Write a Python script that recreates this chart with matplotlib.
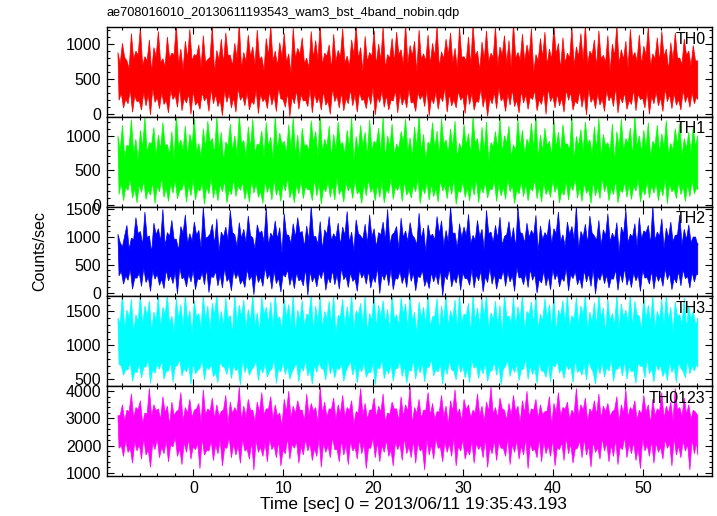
import numpy as np
import matplotlib
matplotlib.use("Agg")
import matplotlib.pyplot as plt
from matplotlib.ticker import MultipleLocator

plt.rcParams['font.family'] = ['Liberation Sans', 'DejaVu Sans']

title = "ae708016010_20130611193543_wam3_bst_4band_nobin.qdp"
xlabel = "Time [sec] 0 = 2013/06/11 19:35:43.193"
ylabel = "Counts/sec"

# time span covered by the light curve (sec)
t_start, t_end = -8.4, 56.1

names = ["TH0", "TH1", "TH2", "TH3", "TH0123"]
colors = ["#ff0000", "#00ff00", "#0000ff", "#00ffff", "#ff00ff"]

# ~0.5 s steps:
#   *_hi  peaks of the upper edge,  *_hid dips between those peaks
#   *_lo  troughs of the lower edge, *_lod bumps between those troughs
th0_hi = [880, 1010, 760, 1150, 900, 1240, 820, 1060, 950, 1180,
          790, 1100, 870, 1270, 930, 1040, 1210, 850, 990, 1120,
          780, 1250, 910, 1070, 1160, 840, 1010, 1290, 880, 1130,
          960, 1200, 820, 1080, 1260, 900, 1020, 1150, 860, 1230,
          940, 1090, 800, 1180, 1050, 1280, 870, 990, 1140, 910,
          1220, 830, 1060, 1270, 950, 1110, 880, 1190, 1000, 1250,
          850, 1080, 1170, 920, 1290, 980, 1040, 1200, 860, 1130,
          1010, 1260, 890, 1070, 1160, 940, 1240, 820, 1100, 1280,
          900, 1030, 1190, 870, 1250, 960, 1120, 1050, 1300, 880,
          1140, 990, 1220, 850, 1080, 1170, 930, 1260, 1010, 1090,
          870, 1230, 960, 1150, 1280, 900, 1060, 1190, 840, 1120,
          1000, 1270, 920, 1040, 1210, 880, 1130, 970, 1250, 860,
          1090, 1180, 930, 1020, 1160, 800, 1070, 900, 980, 760]
th0_hid = [720, 810, 650, 780, 840, 690, 760, 600, 820, 740,
           680, 800, 850, 710, 630, 790, 760, 830, 670, 740,
           810, 590, 770, 720, 840, 690, 800, 650, 750, 820,
           700, 780, 620, 830, 760, 690, 810, 740, 580, 790,
           850, 720, 660, 800, 770, 700, 830, 640, 760, 810,
           730, 680, 840, 790, 610, 750, 820, 700, 770, 660,
           800, 740, 850, 690, 720, 830, 600, 780, 760, 710,
           820, 670, 790, 840, 730, 650, 810, 760, 700, 830,
           620, 780, 750, 810, 690, 840, 720, 660, 800, 770,
           740, 830, 590, 760, 810, 700, 780, 850, 640, 730,
           800, 690, 820, 760, 710, 840, 670, 790, 740, 610,
           830, 720, 780, 650, 810, 760, 700, 840, 680, 790,
           750, 820, 630, 770, 800, 710, 840, 690, 760, 720]
th0_lo = [200, 90, 150, 30, 180, 60, 120, -10, 170, 80,
          140, 20, 210, 100, 50, 160, 0, 130, 70, 190,
          40, 150, 110, -20, 170, 90, 30, 200, 120, 60,
          140, 10, 180, 80, 130, 40, 220, 100, -30, 150,
          70, 190, 110, 20, 160, 60, 130, 0, 180, 90,
          50, 150, 120, 30, 200, 80, 140, -10, 170, 100,
          60, 190, 20, 130, 90, 160, 40, 210, 110, -20,
          150, 70, 180, 30, 120, 90, 200, 10, 140, 60,
          170, 100, -30, 150, 80, 190, 40, 130, 110, 20,
          160, 70, 210, 50, 140, 0, 180, 90, 120, 30,
          200, 60, 150, 100, -10, 170, 80, 130, 40, 190,
          110, 20, 160, 70, 140, 50, 210, 90, 0, 150,
          120, 40, 180, 80, 130, 60, 170, 100, 150, 210]
th0_lod = [300, 220, 350, 260, 190, 320, 280, 370, 240, 310,
           200, 340, 270, 380, 230, 290, 330, 180, 310, 250,
           360, 280, 210, 340, 300, 240, 370, 260, 320, 190,
           350, 290, 230, 330, 270, 380, 210, 310, 250, 340,
           280, 200, 360, 300, 240, 330, 190, 370, 260, 310,
           230, 350, 280, 320, 210, 290, 380, 250, 330, 270,
           200, 340, 300, 240, 360, 180, 310, 280, 350, 230,
           320, 260, 370, 290, 210, 330, 250, 340, 300, 190,
           360, 270, 230, 310, 380, 240, 300, 350, 200, 330,
           280, 250, 340, 210, 320, 370, 260, 290, 230, 350,
           310, 190, 330, 280, 360, 240, 300, 220, 340, 270,
           380, 250, 310, 200, 350, 290, 230, 330, 260, 320,
           240, 360, 280, 300, 210, 340, 270, 310, 250, 290]

th1_hi = [1000, 1150, 860, 1230, 950, 1080, 1270, 900, 1120, 1010,
          1190, 870, 1060, 1300, 940, 1140, 1020, 1250, 890, 1100,
          1210, 960, 1280, 1050, 910, 1170, 1000, 1300, 930, 1130,
          1240, 880, 1070, 1190, 980, 1290, 1040, 920, 1160, 1260,
          1010, 1110, 870, 1220, 1060, 1300, 950, 1140, 1020, 1200,
          900, 1080, 1270, 990, 1150, 1050, 1230, 920, 1110, 1280,
          1000, 1170, 880, 1060, 1240, 970, 1130, 1300, 1020, 910,
          1190, 1070, 1250, 940, 1100, 1210, 890, 1160, 1030, 1280,
          960, 1120, 1200, 900, 1060, 1260, 1000, 1140, 870, 1230,
          1080, 950, 1180, 1290, 1010, 1110, 920, 1220, 1050, 1160,
          880, 1270, 990, 1090, 1200, 940, 1130, 1250, 1020, 900,
          1170, 1060, 1240, 960, 1110, 1300, 1000, 1080, 1190, 920,
          1150, 1030, 1220, 890, 1100, 1180, 960, 1050, 1120, 1000]
th1_hid = [780, 690, 850, 740, 620, 820, 760, 880, 700, 800,
           860, 730, 650, 840, 790, 710, 870, 760, 680, 820,
           900, 740, 800, 630, 850, 770, 720, 880, 690, 810,
           750, 860, 700, 830, 660, 790, 870, 740, 810, 720,
           640, 850, 780, 890, 710, 760, 830, 680, 800, 870,
           730, 820, 610, 780, 850, 700, 790, 880, 750, 670,
           840, 720, 810, 900, 760, 690, 830, 770, 640, 860,
           800, 710, 870, 740, 820, 680, 790, 850, 730, 880,
           700, 760, 620, 840, 810, 750, 890, 690, 780, 830,
           720, 860, 800, 660, 770, 850, 710, 820, 740, 880,
           790, 650, 840, 760, 870, 730, 800, 690, 850, 770,
           620, 820, 780, 890, 700, 840, 760, 810, 680, 860,
           750, 830, 720, 790, 870, 700, 810, 760, 840, 780]
th1_lo = [150, 60, 210, 100, 30, 180, 80, 140, 20, 190,
          110, 50, 170, 90, 220, 40, 130, 70, 200, 10,
          160, 100, 60, 190, 30, 150, 120, 210, 80, 40,
          170, 110, 20, 180, 70, 140, 50, 200, 100, 30,
          160, 90, 220, 60, 130, 10, 190, 110, 70, 150,
          40, 200, 90, 160, 20, 130, 180, 60, 110, 30,
          170, 80, 210, 50, 140, 100, 190, 20, 160, 70,
          120, 40, 200, 90, 150, 10, 180, 110, 60, 140,
          30, 170, 100, 220, 50, 130, 80, 190, 20, 160,
          120, 60, 200, 90, 40, 150, 110, 180, 30, 140,
          70, 210, 100, 50, 170, 20, 130, 90, 190, 60,
          150, 30, 180, 110, 80, 200, 40, 140, 100, 170,
          60, 130, 20, 190, 90, 150, 50, 120, 160, 220]
th1_lod = [320, 260, 380, 240, 300, 350, 220, 330, 280, 390,
           250, 310, 360, 210, 340, 290, 370, 230, 320, 270,
           400, 260, 300, 350, 220, 380, 280, 330, 240, 360,
           310, 200, 340, 290, 370, 250, 320, 390, 230, 300,
           350, 270, 220, 380, 310, 260, 340, 290, 400, 240,
           330, 280, 360, 210, 320, 370, 250, 300, 340, 230,
           390, 270, 310, 350, 220, 290, 380, 260, 330, 300,
           240, 360, 280, 320, 370, 210, 340, 250, 310, 390,
           270, 330, 230, 350, 300, 260, 380, 290, 220, 340,
           310, 250, 370, 280, 330, 240, 360, 300, 210, 350,
           290, 380, 260, 320, 230, 340, 270, 390, 310, 250,
           360, 220, 330, 300, 280, 370, 240, 350, 290, 320,
           260, 380, 310, 230, 340, 270, 300, 360, 250, 330]

th2_hi = [1050, 820, 1210, 980, 1350, 1100, 1450, 1020, 1250, 1150,
          1500, 1080, 1300, 960, 1190, 1400, 1060, 1270, 1120, 1550,
          1000, 1230, 1330, 1090, 1180, 1480, 1040, 1260, 1140, 1380,
          990, 1220, 1110, 1520, 1070, 1290, 1170, 1420, 1030, 1240,
          1350, 1100, 1200, 1560, 1010, 1280, 1130, 1370, 1060, 1250,
          1180, 1460, 1090, 1310, 1020, 1230, 1400, 1150, 1080, 1270,
          1500, 1040, 1190, 1340, 1110, 1260, 980, 1430, 1160, 1220,
          1050, 1370, 1290, 1120, 1550, 1070, 1240, 1180, 1410, 1030,
          1300, 1140, 1480, 1090, 1210, 1360, 1010, 1280, 1170, 1530,
          1060, 1250, 1120, 1390, 1200, 1080, 1320, 1150, 1450, 1040,
          1270, 1190, 1560, 1100, 1230, 1380, 1020, 1300, 1130, 1420,
          1070, 1260, 1180, 1490, 1050, 1240, 1350, 1110, 1210, 1560,
          1090, 1330, 1160, 1270, 1030, 1400, 1140, 1220, 1000, 850]
th2_hid = [900, 1020, 780, 950, 1060, 860, 990, 720, 1040, 920,
           840, 1010, 960, 760, 1070, 880, 930, 1030, 810, 980,
           1050, 870, 740, 1000, 940, 1080, 830, 970, 900, 1020,
           790, 1060, 920, 850, 1000, 960, 710, 1040, 880, 990,
           1070, 820, 940, 1010, 870, 770, 1050, 930, 980, 850,
           1030, 900, 750, 1060, 960, 880, 1000, 820, 1040, 940,
           870, 1080, 790, 990, 920, 1030, 860, 960, 730, 1010,
           950, 1050, 840, 910, 1070, 800, 980, 1020, 880, 940,
           1000, 760, 1060, 900, 970, 850, 1040, 930, 810, 1080,
           890, 990, 1030, 740, 950, 1010, 870, 1060, 920, 830,
           1040, 960, 780, 1000, 880, 1070, 940, 850, 1020, 910,
           970, 720, 1050, 890, 1000, 830, 960, 1080, 870, 940,
           1010, 800, 980, 920, 1040, 860, 950, 900, 1000, 880]
th2_lo = [300, 150, 220, 60, 260, 110, 180, 20, 240, 130,
          70, 210, 160, -30, 250, 100, 190, 50, 230, 140,
          0, 270, 120, 80, 200, 30, 250, 150, 90, 220,
          -40, 180, 110, 240, 60, 160, 10, 280, 130, 70,
          210, 120, -50, 190, 100, 250, 40, 170, 140, 60,
          230, 90, 200, 20, 260, 150, 80, 180, -20, 220,
          120, 50, 240, 160, 90, 200, 30, 270, 110, 70,
          190, 140, -60, 230, 100, 170, 40, 250, 130, 80,
          210, 10, 180, 150, 60, 240, 110, 190, 20, 260,
          140, 90, 220, -10, 170, 120, 50, 230, 100, 200,
          30, 250, 140, 70, 190, 110, -30, 220, 160, 80,
          240, 40, 180, 130, 90, 210, 20, 260, 150, 60,
          200, 110, 230, 50, 170, 120, 250, 80, 190, 320]
th2_lod = [380, 300, 420, 260, 350, 440, 280, 390, 330, 240,
           410, 310, 370, 450, 270, 340, 400, 250, 360, 430,
           290, 380, 320, 440, 260, 400, 350, 230, 420, 310,
           370, 280, 450, 340, 390, 260, 330, 410, 300, 360,
           240, 430, 380, 290, 350, 420, 270, 400, 320, 440,
           300, 360, 250, 410, 340, 390, 280, 450, 330, 370,
           420, 260, 380, 310, 440, 350, 290, 400, 240, 360,
           330, 410, 300, 430, 270, 380, 350, 250, 420, 320,
           390, 290, 440, 340, 260, 400, 370, 310, 450, 280,
           360, 420, 330, 240, 390, 300, 410, 350, 270, 440,
           320, 380, 260, 400, 340, 430, 290, 370, 310, 250,
           410, 350, 440, 280, 360, 320, 400, 270, 390, 330,
           300, 430, 350, 260, 380, 410, 290, 360, 340, 400]

th3_hi = [1400, 1750, 1520, 1680, 1450, 1750, 1580, 1650, 1490, 1720,
          1560, 1750, 1430, 1690, 1600, 1750, 1510, 1660, 1470, 1740,
          1580, 1620, 1750, 1500, 1700, 1440, 1750, 1590, 1670, 1530,
          1750, 1480, 1710, 1560, 1640, 1750, 1420, 1690, 1600, 1750,
          1520, 1660, 1460, 1750, 1580, 1710, 1500, 1650, 1750, 1440,
          1680, 1570, 1750, 1510, 1620, 1730, 1470, 1750, 1590, 1660,
          1530, 1750, 1450, 1700, 1610, 1750, 1490, 1640, 1560, 1750,
          1420, 1690, 1580, 1750, 1510, 1670, 1750, 1460, 1620, 1740,
          1550, 1680, 1750, 1480, 1650, 1590, 1750, 1430, 1710, 1570,
          1750, 1500, 1640, 1750, 1460, 1690, 1600, 1750, 1520, 1660,
          1750, 1440, 1700, 1580, 1750, 1490, 1630, 1750, 1550, 1680,
          1470, 1750, 1610, 1520, 1750, 1650, 1430, 1720, 1590, 1750,
          1500, 1670, 1750, 1560, 1640, 1450, 1700, 1580, 1500, 1350]
th3_hid = [1320, 1240, 1400, 1180, 1350, 1290, 1430, 1210, 1370, 1260,
           1450, 1300, 1190, 1380, 1270, 1340, 1160, 1410, 1250, 1360,
           1220, 1440, 1310, 1280, 1390, 1170, 1330, 1420, 1240, 1350,
           1290, 1200, 1450, 1320, 1260, 1380, 1230, 1400, 1300, 1180,
           1360, 1270, 1430, 1210, 1340, 1250, 1390, 1310, 1160, 1420,
           1280, 1350, 1230, 1440, 1300, 1190, 1370, 1260, 1410, 1330,
           1220, 1380, 1290, 1450, 1240, 1350, 1170, 1400, 1310, 1270,
           1430, 1200, 1340, 1280, 1390, 1250, 1320, 1440, 1180, 1360,
           1300, 1410, 1230, 1370, 1290, 1150, 1420, 1330, 1260, 1380,
           1210, 1450, 1310, 1240, 1350, 1400, 1270, 1190, 1430, 1320,
           1250, 1380, 1300, 1440, 1220, 1340, 1280, 1410, 1170, 1360,
           1290, 1230, 1400, 1330, 1260, 1450, 1210, 1370, 1310, 1240,
           1390, 1280, 1350, 1190, 1420, 1300, 1250, 1380, 1320, 1400]
th3_lo = [720, 560, 640, 470, 600, 520, 680, 440, 590, 650,
          500, 620, 460, 700, 550, 610, 430, 580, 660, 490,
          640, 540, 450, 690, 570, 510, 630, 420, 600, 560,
          680, 480, 590, 530, 650, 440, 610, 570, 500, 670,
          460, 620, 550, 430, 600, 660, 490, 580, 520, 640,
          470, 690, 560, 450, 610, 530, 600, 420, 650, 510,
          580, 470, 660, 540, 440, 620, 500, 590, 460, 680,
          550, 610, 430, 570, 640, 490, 600, 520, 450, 660,
          510, 580, 470, 630, 560, 420, 690, 540, 600, 480,
          650, 500, 570, 440, 620, 530, 460, 680, 590, 510,
          640, 450, 600, 560, 490, 670, 430, 580, 530, 620,
          470, 650, 550, 500, 610, 440, 690, 520, 580, 460,
          630, 540, 480, 600, 450, 660, 520, 580, 620, 700]
th3_lod = [700, 640, 760, 610, 730, 680, 790, 650, 720, 770,
           620, 750, 690, 800, 660, 710, 740, 630, 780, 690,
           720, 600, 760, 670, 740, 700, 650, 790, 710, 640,
           770, 680, 730, 620, 800, 660, 750, 700, 610, 740,
           690, 780, 640, 720, 760, 650, 800, 700, 670, 730,
           620, 770, 710, 680, 750, 600, 740, 690, 790, 650,
           720, 660, 760, 700, 630, 780, 710, 740, 670, 800,
           640, 730, 690, 770, 620, 750, 700, 660, 790, 710,
           680, 740, 610, 760, 720, 650, 780, 690, 730, 640,
           800, 700, 670, 750, 620, 740, 710, 770, 660, 720,
           690, 780, 640, 730, 760, 600, 710, 750, 680, 790,
           650, 720, 770, 690, 630, 740, 700, 800, 660, 730,
           710, 640, 760, 690, 750, 620, 780, 700, 730, 680]

th0123_hi = [3100, 3500, 3300, 3900, 3400, 3650, 3200, 4100, 3500, 3350,
             3800, 3450, 3600, 3250, 3950, 3400, 3700, 3300, 3550, 4050,
             3350, 3750, 3500, 3250, 3850, 3600, 3400, 4150, 3450, 3700,
             3300, 3600, 3950, 3350, 3800, 3500, 3200, 3700, 4000, 3450,
             3650, 3300, 3900, 3550, 3400, 4150, 3600, 3350, 3750, 3500,
             3850, 3400, 3650, 3250, 4100, 3550, 3300, 3750, 3450, 3900,
             3200, 3600, 3350, 3800, 3500, 4150, 3400, 3700, 3300, 3950,
             3550, 3250, 3850, 3450, 3650, 4050, 3350, 3700, 3500, 3300,
             3900, 3450, 3600, 4150, 3400, 3750, 3300, 3550, 3850, 3450,
             3650, 4000, 3350, 3700, 3500, 3250, 3800, 3550, 3950, 3400,
             3600, 3300, 4100, 3500, 3750, 3350, 3650, 3900, 3450, 3550,
             3250, 3800, 3500, 4050, 3400, 3650, 3300, 3850, 3500, 3700,
             3350, 3950, 3450, 3600, 4100, 3400, 3750, 3500, 3300, 3100]
th0123_hid = [3100, 2900, 3250, 3000, 3320, 2800, 3150, 3050, 3280, 2950,
              3200, 2750, 3100, 3300, 2900, 3180, 3020, 3350, 2850, 3120,
              3250, 2980, 3080, 3310, 2780, 3160, 3220, 2920, 3050, 3290,
              2880, 3200, 3130, 3340, 2960, 3080, 2720, 3240, 3020, 3170,
              3300, 2900, 3110, 3260, 2830, 3180, 3040, 3330, 2940, 3150,
              3060, 3280, 2790, 3200, 3120, 2970, 3310, 3030, 3220, 2860,
              3150, 3340, 2920, 3080, 3250, 2800, 3180, 3000, 3300, 3100,
              2950, 3230, 3060, 2760, 3270, 3140, 2900, 3320, 3010, 3200,
              3080, 2870, 3260, 3150, 3020, 3340, 2930, 3110, 3240, 2820,
              3190, 3050, 3300, 2980, 3130, 3270, 2740, 3210, 3080, 3330,
              2960, 3160, 3040, 3290, 2880, 3200, 3120, 2990, 3250, 3070,
              3310, 2850, 3180, 3030, 3280, 2940, 3150, 3220, 2800, 3100,
              3260, 3000, 3190, 2910, 3300, 3070, 3150, 2960, 3230, 3100]
th0123_lo = [1900, 1600, 1750, 1350, 1800, 1500, 1650, 1200, 1850, 1550,
             1700, 1400, 1950, 1600, 1300, 1750, 1500, 1850, 1150, 1650,
             1800, 1450, 1700, 1250, 1900, 1550, 1650, 1350, 1800, 1500,
             1100, 1750, 1600, 1400, 1850, 1550, 1250, 1700, 1500, 1900,
             1350, 1650, 1800, 1450, 1600, 1200, 1750, 1550, 1850, 1400,
             1650, 1300, 1800, 1500, 1700, 1150, 1900, 1550, 1400, 1750,
             1600, 1250, 1850, 1450, 1700, 1550, 1350, 1800, 1100, 1650,
             1500, 1900, 1400, 1750, 1600, 1250, 1800, 1500, 1650, 1350,
             1850, 1550, 1200, 1700, 1450, 1900, 1600, 1300, 1750, 1500,
             1650, 1150, 1800, 1550, 1400, 1700, 1600, 1250, 1850, 1450,
             1700, 1350, 1900, 1550, 1650, 1200, 1750, 1500, 1800, 1400,
             1600, 1300, 1850, 1550, 1700, 1450, 1150, 1800, 1600, 1350,
             1750, 1500, 1900, 1250, 1650, 1550, 1800, 1100, 1700, 1650]
th0123_lod = [2000, 2200, 1900, 2150, 2050, 2280, 1850, 2100, 2250, 1950,
              2180, 2020, 2300, 1880, 2120, 2230, 1960, 2080, 2270, 1820,
              2160, 2040, 2210, 1920, 2290, 2060, 1990, 2240, 1870, 2130,
              2200, 1940, 2090, 2260, 2010, 2170, 1830, 2280, 2050, 2140,
              1980, 2220, 2070, 1900, 2250, 2110, 2000, 2300, 1860, 2190,
              2030, 2160, 1950, 2240, 2080, 1910, 2270, 2120, 2010, 2200,
              1840, 2150, 2060, 2290, 1970, 2180, 2100, 1890, 2230, 2040,
              2260, 1930, 2140, 2070, 2300, 1980, 2210, 1850, 2160, 2090,
              2020, 2250, 1960, 2190, 2120, 1900, 2280, 2050, 2170, 1990,
              2230, 2080, 1880, 2270, 2140, 2010, 2200, 1940, 2110, 2290,
              2060, 1870, 2180, 2240, 2000, 2150, 1920, 2260, 2090, 2030,
              2210, 1960, 2300, 2070, 2130, 1890, 2250, 2020, 2170, 2100,
              1950, 2220, 2080, 2280, 1990, 2160, 2040, 2230, 2110, 2000]

peaks = [th0_hi, th1_hi, th2_hi, th3_hi, th0123_hi]
peak_dips = [th0_hid, th1_hid, th2_hid, th3_hid, th0123_hid]
troughs = [th0_lo, th1_lo, th2_lo, th3_lo, th0123_lo]
trough_bumps = [th0_lod, th1_lod, th2_lod, th3_lod, th0123_lod]

# y ranges and tick steps per panel
ylims = [(-38, 1238), (-25, 1270), (-70, 1546), (400, 1720), (890, 4185)]
ymajor = [500, 500, 500, 500, 1000]
yminor = [100, 100, 100, 100, 200]
xlim = (-9.65, 57.65)


def edge(a, b, t, shift):
    # alternate two sequences along time -> jagged edge of the band
    n = min(len(a), len(b), len(t))
    dt = t[1] - t[0]
    xs = np.empty(2 * n)
    ys = np.empty(2 * n)
    xs[0::2] = t[:n] + shift * dt
    xs[1::2] = t[:n] + (shift + 0.5) * dt
    ys[0::2] = a[:n]
    ys[1::2] = b[:n]
    xs = np.clip(xs, t_start, t_end)
    return xs, ys


W, H = 717, 516
fig = plt.figure(figsize=(W / 100, H / 100), dpi=100)

left, right = 106.7, 711.7
top, bottom = 27.3, 475.8
ph = (bottom - top) / 5
fs = 11.5

axes = []
for i in range(5):
    y0 = 1 - (top + ph * (i + 1)) / H
    ax = fig.add_axes([left / W, y0, (right - left) / W, ph / H])
    axes.append(ax)

    t = np.linspace(t_start, t_end, len(peaks[i]))
    ux, uy = edge(peaks[i], peak_dips[i], t, 0.0)
    lx, ly = edge(troughs[i], trough_bumps[i], t, 0.25)
    xs = np.concatenate([ux, lx[::-1]])
    ys = np.concatenate([uy, ly[::-1]])
    ax.fill(xs, ys, facecolor=colors[i], edgecolor=colors[i], lw=0.5)

    ax.set_xlim(*xlim)
    ax.set_ylim(*ylims[i])
    ax.xaxis.set_major_locator(MultipleLocator(10))
    ax.xaxis.set_minor_locator(MultipleLocator(2))
    ax.yaxis.set_major_locator(MultipleLocator(ymajor[i]))
    ax.yaxis.set_minor_locator(MultipleLocator(yminor[i]))
    ax.tick_params(which='both', direction='in', top=True, right=True,
                   width=0.8, labelsize=fs)
    ax.tick_params(which='major', length=5, pad=4)
    ax.tick_params(which='minor', length=2.5)
    for sp in ax.spines.values():
        sp.set_linewidth(1.0)
    if i < 4:
        ax.tick_params(labelbottom=False)
    ax.text(0.99, 0.95, names[i], transform=ax.transAxes, ha='right',
            va='top', fontsize=fs)

fig.text(413 / W, 1 - 505 / H, xlabel, ha='center', va='center',
         fontsize=12.5)
fig.text(left / W, 1 - 13 / H, title, ha='left', va='center', fontsize=9.2)
fig.text(40 / W, 1 - 251 / H, ylabel, rotation=90, ha='center',
         va='center', fontsize=fs)

fig.savefig("out.png", dpi=100)
